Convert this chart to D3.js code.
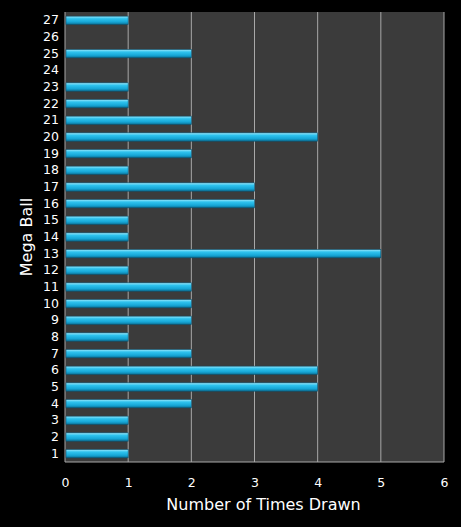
<!DOCTYPE html><html><head><meta charset="utf-8">
<script src="https://cdn.jsdelivr.net/npm/d3@7"></script>
<style>body{margin:0;background:#000}</style></head><body>
<svg id="c" width="461" height="527"></svg>
<script>
const balls = d3.range(1,28).map(String);
const counts = [1,1,1,2,4,4,2,1,2,2,2,1,5,1,1,3,3,1,2,4,2,1,1,0,2,0,1];
const xTicks = [0,1,2,3,4,5,6];
const svg = d3.select("#c");
const m = {l:65,r:444,t:12,b:462};
const x = d3.scaleLinear().domain([0,6]).range([m.l,m.r]);
const y = d3.scaleBand().domain(balls.slice().reverse()).range([m.t,m.b]).paddingInner(0.5).paddingOuter(0.25);
const defs = svg.append("defs");
const g = defs.append("linearGradient").attr("id","bg").attr("x1",0).attr("x2",0).attr("y1",0).attr("y2",1);
[[0,"#9ee8fb"],[0.3,"#2fc3ee"],[0.7,"#16a6d6"],[1,"#0b6f93"]].forEach(([o,c])=>g.append("stop").attr("offset",o).attr("stop-color",c));
svg.append("rect").attr("x",m.l).attr("y",m.t).attr("width",m.r-m.l).attr("height",m.b-m.t).attr("fill","#3b3b3b");
svg.append("g").selectAll("line").data(xTicks.slice(1)).join("line")
 .attr("x1",d=>x(d)).attr("x2",d=>x(d)).attr("y1",m.t).attr("y2",m.b).attr("stroke","#a8a8a8").attr("stroke-width",1);
svg.append("line").attr("x1",m.l).attr("x2",m.r).attr("y1",m.b).attr("y2",m.b).attr("stroke","#a8a8a8");
svg.append("line").attr("x1",m.l).attr("x2",m.l).attr("y1",m.t).attr("y2",m.b).attr("stroke","#a8a8a8");
svg.append("g").selectAll("rect").data(balls).join("rect")
 .attr("x",x(0)+1).attr("y",d=>y(d)).attr("height",y.bandwidth())
 .attr("width",(d,i)=>Math.max(0,x(counts[i])-x(0)-1)).attr("fill","url(#bg)")
 .attr("stroke",(d,i)=>counts[i]?"#0a5270":"none").attr("stroke-width",0.6);
const xa = svg.append("g").attr("transform",`translate(0,${m.b})`).call(d3.axisBottom(x).tickValues(xTicks).tickFormat(d3.format("d")).tickSize(0).tickPadding(16));
const ya = svg.append("g").attr("transform",`translate(${m.l},0)`).call(d3.axisLeft(y).tickSize(0).tickPadding(6));
[xa,ya].forEach(a=>{a.select(".domain").remove();a.selectAll("text").attr("fill","#fff").style("font-family","DejaVu Sans").style("font-size","12.5px");});
svg.append("text").attr("x",(m.l+m.r)/2+9).attr("y",510).attr("text-anchor","middle").attr("fill","#fff")
 .style("font-family","DejaVu Sans").style("font-size","16px").text("Number of Times Drawn");
svg.append("text").attr("transform","translate(32,237) rotate(-90)").attr("text-anchor","middle").attr("fill","#fff")
 .style("font-family","DejaVu Sans").style("font-size","16px").text("Mega Ball");
</script></body></html>
